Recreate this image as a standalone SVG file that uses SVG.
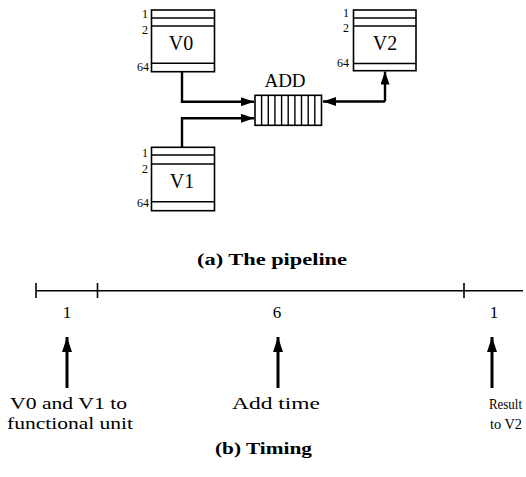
<svg xmlns="http://www.w3.org/2000/svg" width="526" height="477" viewBox="0 0 526 477">
<style>
.box{fill:none;stroke:#000;stroke-width:1.6}
.ln{stroke:#000;stroke-width:1.4}
.con{fill:none;stroke:#000;stroke-width:2.4}
.idx{font-family:"Liberation Serif",serif;font-size:12px;text-anchor:end;fill:#000}
.vname{font-family:"Liberation Serif",serif;font-size:20px;text-anchor:middle;fill:#000}
.lbl{font-family:"Liberation Serif",serif;font-size:17px;text-anchor:middle;fill:#000}
.cap{font-family:"Liberation Serif",serif;font-size:17px;font-weight:bold;text-anchor:middle;fill:#000}
.tl{stroke:#000;stroke-width:1.6}
.up{stroke:#000;stroke-width:3}
</style>
<defs>
<marker id="ah" markerUnits="userSpaceOnUse" markerWidth="14" markerHeight="9" refX="13" refY="4.5" orient="auto">
<path d="M0,0 L13,4.5 L0,9 Z" fill="#000"/>
</marker>
<marker id="ahb" markerUnits="userSpaceOnUse" markerWidth="16" markerHeight="10" refX="15" refY="5" orient="auto">
<path d="M0,0 L15,5 L0,10 Z" fill="#000"/>
</marker>
</defs>

<g id="V0">
<rect class="box" x="151.5" y="10" width="63" height="61.7"/>
<line class="ln" x1="151.5" y1="18" x2="214.5" y2="18"/>
<line class="ln" x1="151.5" y1="26" x2="214.5" y2="26"/>
<line class="ln" x1="151.5" y1="63.3" x2="214.5" y2="63.3"/>
<text class="idx" x="148" y="18">1</text>
<text class="idx" x="148" y="34">2</text>
<text class="idx" x="149" y="71">64</text>
<text class="vname" x="181" y="50">V0</text>
</g>

<g id="V1">
<rect class="box" x="151.5" y="147.3" width="63" height="63.4"/>
<line class="ln" x1="151.5" y1="155" x2="214.5" y2="155"/>
<line class="ln" x1="151.5" y1="164" x2="214.5" y2="164"/>
<line class="ln" x1="151.5" y1="201.7" x2="214.5" y2="201.7"/>
<text class="idx" x="148" y="157">1</text>
<text class="idx" x="148" y="173">2</text>
<text class="idx" x="149" y="207">64</text>
<text class="vname" x="182" y="188">V1</text>
</g>

<g id="V2">
<rect class="box" x="353.5" y="10" width="62.5" height="60.7"/>
<line class="ln" x1="353.5" y1="18" x2="416" y2="18"/>
<line class="ln" x1="353.5" y1="26" x2="416" y2="26"/>
<line class="ln" x1="353.5" y1="63.5" x2="416" y2="63.5"/>
<text class="idx" x="349" y="17">1</text>
<text class="idx" x="349" y="32">2</text>
<text class="idx" x="349" y="67">64</text>
<text class="vname" x="385" y="50">V2</text>
</g>

<g id="ADD">
<text class="vname" x="285" y="86.5" style="font-size:19px">ADD</text>
<rect class="box" x="255" y="95.3" width="66.5" height="30"/>
<g class="ln">
<line x1="261.6" y1="95.3" x2="261.6" y2="125.3"/>
<line x1="268.3" y1="95.3" x2="268.3" y2="125.3"/>
<line x1="274.9" y1="95.3" x2="274.9" y2="125.3"/>
<line x1="281.6" y1="95.3" x2="281.6" y2="125.3"/>
<line x1="288.2" y1="95.3" x2="288.2" y2="125.3"/>
<line x1="294.9" y1="95.3" x2="294.9" y2="125.3"/>
<line x1="301.5" y1="95.3" x2="301.5" y2="125.3"/>
<line x1="308.2" y1="95.3" x2="308.2" y2="125.3"/>
<line x1="314.8" y1="95.3" x2="314.8" y2="125.3"/>
</g>
</g>

<g id="connectors">
<polyline class="con" points="182,71.7 182,101.7 254,101.7" marker-end="url(#ah)"/>
<polyline class="con" points="182,147.3 182,118.3 254,118.3" marker-end="url(#ah)"/>
<polyline class="con" points="385,101.5 323,101.5" marker-end="url(#ah)"/>
<polyline class="con" points="385,101.5 385,71.5" marker-end="url(#ah)"/>
</g>

<text class="cap" x="272" y="265" textLength="150" lengthAdjust="spacingAndGlyphs">(a)  The pipeline</text>

<g id="timeline">
<line class="tl" x1="36" y1="290.7" x2="523" y2="290.7"/>
<line class="tl" x1="36" y1="283" x2="36" y2="298"/>
<line class="tl" x1="97.5" y1="283" x2="97.5" y2="298"/>
<line class="tl" x1="464" y1="283" x2="464" y2="298"/>
<text class="lbl" x="67" y="318">1</text>
<text class="lbl" x="277" y="318">6</text>
<text class="lbl" x="494" y="318">1</text>
</g>

<g id="arrows">
<line class="up" x1="67" y1="388" x2="67" y2="337" marker-end="url(#ahb)"/>
<line class="up" x1="278" y1="388" x2="278" y2="337" marker-end="url(#ahb)"/>
<line class="up" x1="492" y1="388" x2="492" y2="337" marker-end="url(#ahb)"/>
</g>

<text class="lbl" x="68.5" y="409" textLength="117" lengthAdjust="spacingAndGlyphs">V0 and V1 to</text>
<text class="lbl" x="70" y="429" textLength="126" lengthAdjust="spacingAndGlyphs">functional unit</text>
<text class="lbl" x="276" y="409" textLength="88" lengthAdjust="spacingAndGlyphs">Add time</text>
<text class="lbl" x="489" y="409" style="text-anchor:start;font-size:14px" textLength="33" lengthAdjust="spacingAndGlyphs">Result</text>
<text class="lbl" x="490" y="429" style="text-anchor:start;font-size:14px" textLength="32" lengthAdjust="spacingAndGlyphs">to V2</text>
<text class="cap" x="263.5" y="454" textLength="97" lengthAdjust="spacingAndGlyphs">(b) Timing</text>
</svg>
